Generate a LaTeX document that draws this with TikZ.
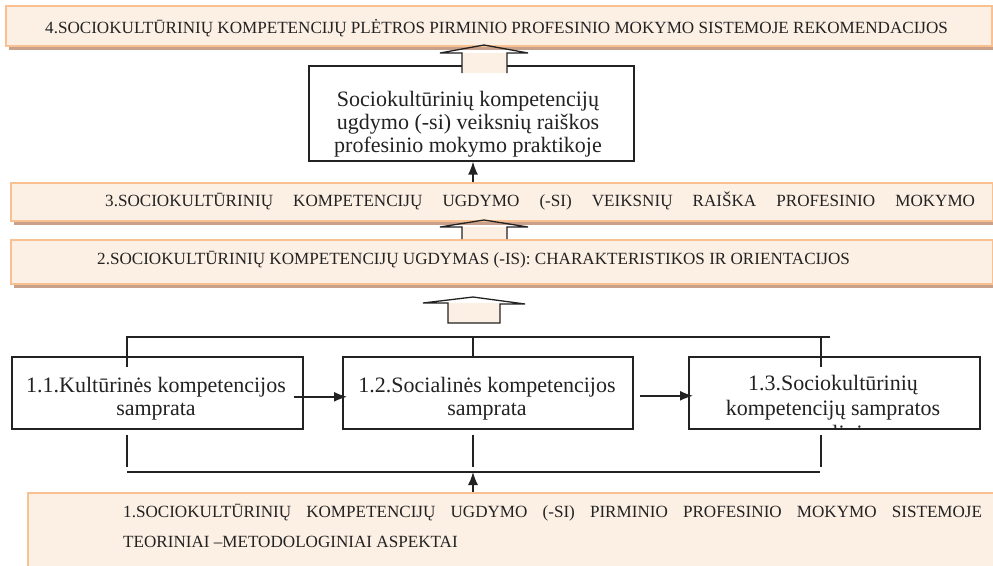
\documentclass[tikz,border=0pt]{standalone}
\usepackage{fontspec}
\setmainfont{Liberation Serif}
\usetikzlibrary{arrows.meta,calc,shadows}
\definecolor{bandfill}{HTML}{FCEFE4}
\definecolor{bandline}{HTML}{F9C091}
\definecolor{bandshadow}{HTML}{C9A08A}
\definecolor{ink}{HTML}{222222}
\begin{document}
\begin{tikzpicture}[x=1pt,y=-1pt,
  band/.style={draw=bandline, fill=bandfill, line width=2pt, anchor=north west, inner sep=0pt,
    drop shadow={shadow xshift=3pt, shadow yshift=-4pt, fill=bandshadow, opacity=1}},
  bandns/.style={draw=bandline, fill=bandfill, line width=2pt, anchor=north west, inner sep=0pt},
  btext/.style={anchor=base west, inner sep=0pt, text=ink, font=\fontsize{17.1}{20}\selectfont},
  cbox/.style={draw=ink, line width=1.6pt, fill=white, anchor=north west, inner sep=0pt},
  ctext/.style={anchor=base, inner sep=0pt, text=ink, align=center, font=\fontsize{22}{23}\selectfont},
  ctextb/.style={ctext, font=\fontsize{22}{25}\selectfont},
  ln/.style={draw=ink, line width=1.4pt},
  arr/.style={ln, -{Latex[length=13pt,width=10pt]}},
  blk/.style={draw=ink, line width=1.3pt, line join=miter},
]
\useasboundingbox (0,0) rectangle (993,565);

% bands
\node[band, minimum width=986pt, minimum height=40pt] (b4) at (5,5) {};
\node[btext] (t4) at (45,33) {4.SOCIOKULTŪRINIŲ KOMPETENCIJŲ PLĖTROS PIRMINIO PROFESINIO MOKYMO SISTEMOJE REKOMENDACIJOS};

\node[band, minimum width=982pt, minimum height=38pt] (b3) at (10,182) {};
\node[btext] (t3) at (105,206) {\makebox[870pt][s]{3.SOCIOKULTŪRINIŲ KOMPETENCIJŲ UGDYMO (-SI) VEIKSNIŲ RAIŠKA PROFESINIO MOKYMO}};

\node[band, minimum width=982pt, minimum height=44pt] (b2) at (10,239) {};
\node[btext] (t2) at (97,264) {2.SOCIOKULTŪRINIŲ KOMPETENCIJŲ UGDYMAS (-IS): CHARAKTERISTIKOS IR ORIENTACIJOS};

\node[bandns, minimum width=980pt, minimum height=80pt] (b1) at (27,492) {};
\node[btext] (t1a) at (123,517) {\makebox[859pt][s]{1.SOCIOKULTŪRINIŲ KOMPETENCIJŲ UGDYMO (-SI) PIRMINIO PROFESINIO MOKYMO SISTEMOJE}};
\node[btext] (t1b) at (123,547) {TEORINIAI –METODOLOGINIAI ASPEKTAI};

% middle box
\node[cbox, minimum width=325pt, minimum height=95pt] (mid) at (308,65) {};
\node[ctext] (tm) at (468,152) {Sociokultūrinių kompetencijų\\ugdymo (-si) veiksnių raiškos\\profesinio mokymo praktikoje};

% block arrows (shaft filled, outline drawn)
\fill[bandfill] (462,53) rectangle (507,73);
\draw[blk] (462,73) -- (462,53) -- (440,53) -- (484,45) -- (528,53) -- (507,53) -- (507,73);

\fill[bandfill] (462,227) rectangle (507,239);
\draw[blk] (462,239) -- (462,227) -- (440,227) -- (484,220) -- (528,227) -- (507,227) -- (507,239);

\fill[bandfill] (448,303) rectangle (500,323);
\draw[blk] (448,323) -- (500,323) -- (500,304) -- (525,304) -- (473,297) -- (423,303) -- (448,303) -- cycle;

% lower boxes
\node[cbox, minimum width=291pt, minimum height=72pt] (b11) at (11,356) {};
\node[cbox, minimum width=290pt, minimum height=72pt] (b12) at (342,356) {};
\node[cbox, minimum width=291pt, minimum height=72pt] (b13) at (688,356) {};

\node[ctext] (t11) at (156,415) {1.1.Kultūrinės kompetencijos\\samprata};
\node[ctext] (t12) at (487,415) {1.2.Socialinės kompetencijos\\samprata};
\begin{scope}
  \clip (b13.north west) rectangle (b13.south east);
  \node[ctextb] (t13) at (833,440) {1.3.Sociokultūrinių\\kompetencijų sampratos\\analizė};
\end{scope}

% coordinates for connector columns
\coordinate (cA) at (127,0);
\coordinate (cB) at (473,0);
\coordinate (cC) at (821,0);
\coordinate (topY) at (0,337);
\coordinate (topE) at (830,337);
\coordinate (botY) at (0,472);

% thin arrow band3 -> middle box
\draw[arr] (b3.north -| cB) -- (mid.south -| cB);

% upper junction
\draw[ln] ($(b11.north -| cA)+(0,11)$) -- (topY -| cA) -- (topE);
\draw[ln] (topY -| cB) -- (b12.north -| cB);
\draw[ln] (topY -| cC) -- ($(b13.north -| cC)+(0,11)$);

% arrows between boxes
\draw[arr] ($(b11.east)+(-10,4)$) -- ($(b12.west)+(5,4)$);
\draw[arr] ($(b12.east)+(6,3)$) -- ($(b13.west)+(5,3)$);

% lower junction
\draw[ln] ($(b11.south -| cA)+(0,5)$) -- ($(b11.south -| cA)+(0,37)$);
\draw[ln] ($(b12.south -| cB)+(0,5)$) -- ($(b12.south -| cB)+(0,37)$);
\draw[ln] ($(b13.south -| cC)+(0,5)$) -- ($(b13.south -| cC)+(0,37)$);
\draw[ln] (botY -| cA) -- ($(botY -| cC)+(-1,0)$);
\draw[arr] (b1.north -| cB) -- (botY -| cB);
\end{tikzpicture}
\end{document}
